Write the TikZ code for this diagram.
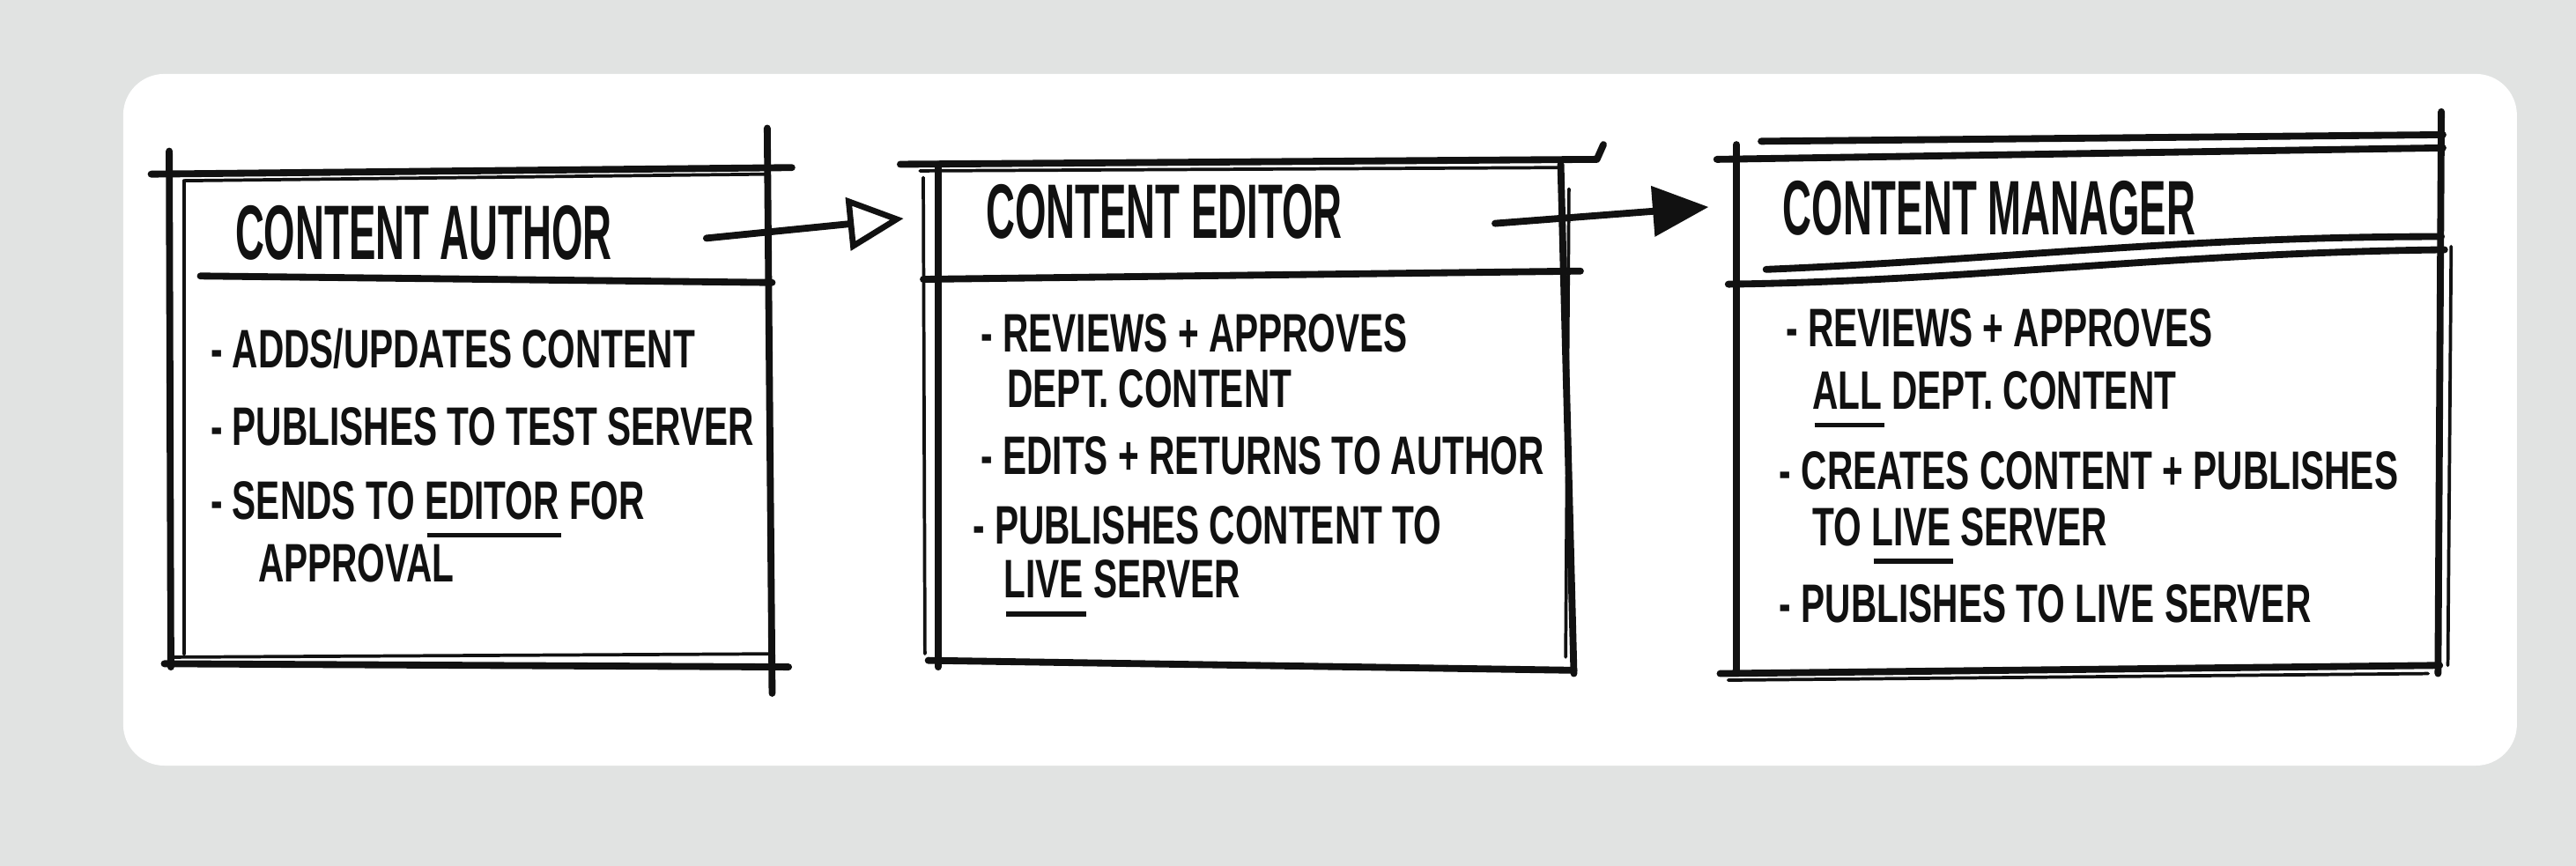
\documentclass[tikz,border=0pt]{standalone}
\usepackage{fontspec}
\usetikzlibrary{arrows.meta}
\newfontfamily\handfont{Liberation Sans}[FakeStretch=0.66]
\newfontfamily\headfont{Liberation Sans}[FakeStretch=0.52]
\definecolor{pagegrey}{HTML}{E1E3E2}
\definecolor{inkc}{HTML}{111111}
% marker-style underline below a word
\newcommand\inkul[1]{\setbox0=\hbox{#1}\rlap{\kern0.04em\raisebox{-0.34em}{\rule{\wd0}{3pt}}}\box0\relax}
\begin{document}
\begin{tikzpicture}[x=1pt,y=-1pt,
  ink/.style={draw=inkc, line width=4.2pt, line cap=round, line join=round},
  faint/.style={draw=inkc, line width=2pt, line cap=round},
  ttl/.style={anchor=base west, inner sep=0pt, text=inkc, font=\headfont\bfseries\fontsize{47}{52}\selectfont},
  item/.style={anchor=base west, inner sep=0pt, text=inkc, font=\handfont\bfseries\fontsize{33}{38}\selectfont},
  flowopen/.style={ink, -{Triangle[open, length=34pt, width=32pt, line width=3.6pt]}},
  flowfull/.style={ink, -{Triangle[length=34pt, width=30pt]}}]
\useasboundingbox (0,0) rectangle (1568,527);
\fill[pagegrey] (0,0) rectangle (1568,527);
\fill[white, rounded corners=25pt] (75,45) rectangle (1532,466);

% ---- content author ----
\draw[ink] (92,106) -- (482,102);
\draw[faint] (112,110) -- (466,106);
\draw[ink] (103,92) -- (104,406);
\draw[faint] (112,110) -- (112,398);
\draw[ink] (467,78) -- (470,422);
\draw[ink] (122,168) -- (470,172);
\draw[ink] (100,404) -- (480,406);
\draw[faint] (106,400) -- (468,398);
\node[ttl] (authorT) at (143,158) {CONTENT AUTHOR};
\node[item] (a1) at (128,224) {- ADDS/UPDATES CONTENT};
\node[item] (a2) at (128,271) {- PUBLISHES TO TEST SERVER};
\node[item] (a3) at (128,316) {- SENDS TO \inkul{EDITOR} FOR};
\node[item] (a3b) at (157,354) {APPROVAL};

% ---- content editor ----
\draw[ink] (548,100) -- (972,97) -- (976,88);
\draw[faint] (560,104) -- (950,102);
\draw[faint] (562,108) -- (563,398);
\draw[ink] (571,100) -- (571,406);
\draw[ink] (950,100) -- (958,410);
\draw[faint] (955,115) -- (953,400);
\draw[ink] (562,170) -- (962,165);
\draw[ink] (565,402) -- (958,408);
\node[ttl] (editorT) at (600,145) {CONTENT EDITOR};
\node[item] (e1) at (597,214) {- REVIEWS + APPROVES};
\node[item] (e1b) at (613,248) {DEPT. CONTENT};
\node[item] (e2) at (597,289) {- EDITS + RETURNS TO AUTHOR};
\node[item] (e3) at (592,331) {- PUBLISHES CONTENT TO};
\node[item] (e3b) at (611,364) {\inkul{LIVE} SERVER};

% ---- content manager ----
\draw[ink] (1045,97) -- (1487,90);
\draw[ink] (1072,86) -- (1487,82);
\draw[ink] (1057,88) -- (1057,408);
\draw[ink] (1486,68) -- (1484,410);
\draw[faint] (1492,150) -- (1490,405);
\draw[ink] (1052,173) .. controls (1200,171) and (1320,154) .. (1488,152);
\draw[ink] (1075,164) .. controls (1220,158) and (1330,144) .. (1486,144);
\draw[ink] (1047,410) -- (1485,405);
\draw[faint] (1052,414) -- (1478,410);
\node[ttl] (managerT) at (1085,143) {CONTENT MANAGER};
\node[item] (m1) at (1087,211) {- REVIEWS + APPROVES};
\node[item] (m1b) at (1103,249) {\inkul{ALL} DEPT. CONTENT};
\node[item] (m2) at (1083,298) {- CREATES CONTENT + PUBLISHES};
\node[item] (m2b) at (1103,332) {TO \inkul{LIVE} SERVER};
\node[item] (m3) at (1083,379) {- PUBLISHES TO LIVE SERVER};

% ---- hand-offs ----
\coordinate (authorOut) at (430,145);
\coordinate (editorIn) at (550,133);
\coordinate (editorOut) at (910,136);
\coordinate (managerIn) at (1040,126);
\draw[flowopen] (authorOut) -- (editorIn);
\draw[flowfull] (editorOut) -- (managerIn);
\end{tikzpicture}
\end{document}
